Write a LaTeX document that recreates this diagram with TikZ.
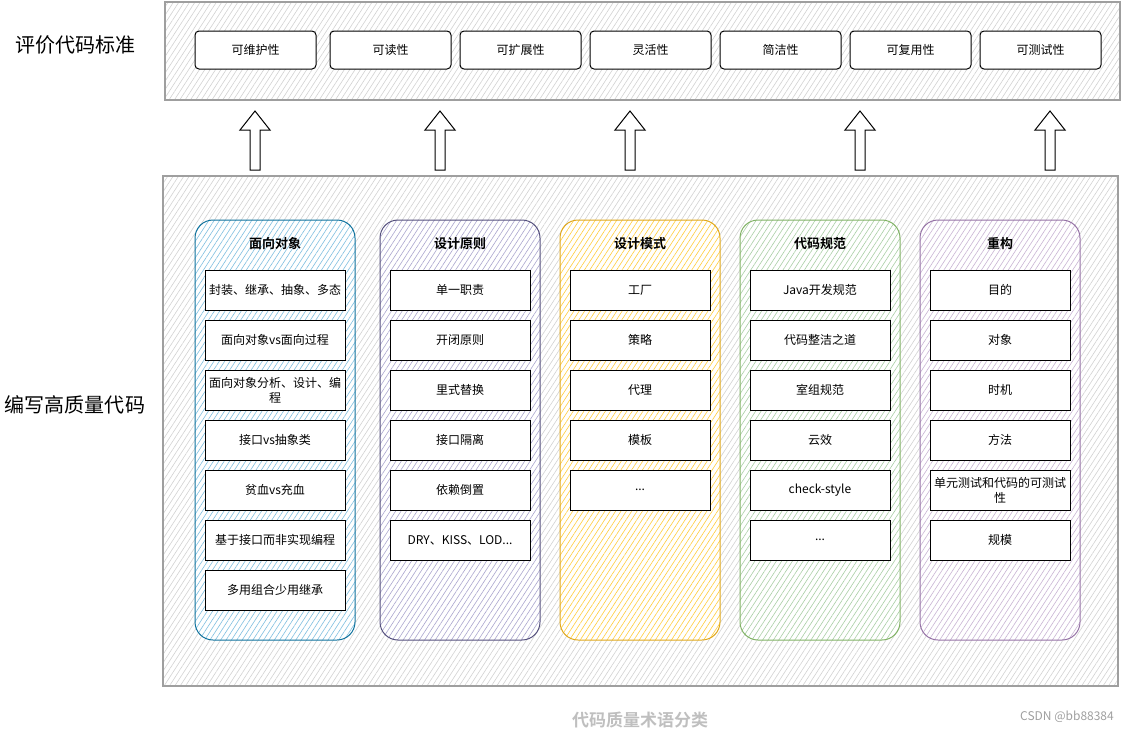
\documentclass[tikz,border=0pt]{standalone}
\usepackage{fontspec}
\setmainfont{Noto Sans CJK SC}[BoldFont={Noto Sans CJK SC Bold}]
\usetikzlibrary{patterns.meta}
\definecolor{oopline}{HTML}{10739E}\definecolor{oopfill}{HTML}{7FBFE0}
\definecolor{priline}{HTML}{56517E}\definecolor{prifill}{HTML}{ABA6CF}
\definecolor{patline}{HTML}{E0A81C}\definecolor{patfill}{HTML}{FFCD3C}
\definecolor{stdline}{HTML}{82B366}\definecolor{stdfill}{HTML}{A9CFA5}
\definecolor{refline}{HTML}{9673A6}\definecolor{reffill}{HTML}{C9B4D4}
\tikzset{
  hatch/.style={pattern={Lines[angle=57,distance=4.5pt,line width=0.6pt]},pattern color=#1},
  panel/.style={draw=gray!75,line width=1.1pt,preaction={fill=white},hatch=gray!35},
  quality/.style={draw,line width=1pt,rounded corners=4pt,fill=white,minimum width=121pt,minimum height=38pt,font=\fontsize{12}{14}\selectfont},
  column/.style 2 args={draw=#1,line width=1pt,rounded corners=18pt,preaction={fill=white},hatch=#2,minimum width=160pt,minimum height=420pt},
  coltitle/.style={font=\bfseries\fontsize{13}{15}\selectfont},
  item/.style={draw,line width=1pt,fill=white,minimum width=140pt,minimum height=40pt,align=center,font=\fontsize{12}{15}\selectfont},
  side/.style={font=\fontsize{20}{24}\selectfont},
  uparrow/.style={draw,line width=1pt,fill=white}
}
\begin{document}
\begin{tikzpicture}[x=1pt,y=-1pt]
\useasboundingbox (0,0) rectangle (1121,732);
% top bar
\node(top) at (642.5,51)[panel,minimum width=955pt,minimum height=98pt]{};
\node(std) at (75,45)[side]{评价代码标准};
\node(q1) at (255.5,50)[quality]{可维护性};
\node(q2) at (390.5,50)[quality]{可读性};
\node(q3) at (520.5,50)[quality]{可扩展性};
\node(q4) at (650.5,50)[quality]{灵活性};
\node(q5) at (780.5,50)[quality]{简洁性};
\node(q6) at (910.5,50)[quality]{可复用性};
\node(q7) at (1040.5,50)[quality]{可测试性};
% arrows
\foreach \x in {255,440,630,860,1050}
  \draw[uparrow] (\x-5,170) -- (\x-5,130) -- (\x-15,130) -- (\x,111) -- (\x+15,130) -- (\x+5,130) -- (\x+5,170) -- cycle;
% main box
\node(main) at (640.5,431)[panel,minimum width=955pt,minimum height=510pt]{};
\node(code) at (75,405)[side]{编写高质量代码};
% columns
\node(c1) at (275,430)[column={oopline}{oopfill}]{};
\node(c2) at (460,430)[column={priline}{prifill}]{};
\node(c3) at (640,430)[column={patline}{patfill}]{};
\node(c4) at (820,430)[column={stdline}{stdfill}]{};
\node(c5) at (1000,430)[column={refline}{reffill}]{};
\node(h1) at (275,244)[coltitle]{面向对象};
\node(h2) at (460,244)[coltitle]{设计原则};
\node(h3) at (640,244)[coltitle]{设计模式};
\node(h4) at (820,244)[coltitle]{代码规范};
\node(h5) at (1000,244)[coltitle]{重构};
% oop
\node(o1) at (275,290)[item]{封装、继承、抽象、多态};
\node(o2) at (275,340)[item]{面向对象vs面向过程};
\node(o3) at (275,390)[item]{面向对象分析、设计、编\\程};
\node(o4) at (275,440)[item]{接口vs抽象类};
\node(o5) at (275,490)[item]{贫血vs充血};
\node(o6) at (275,540)[item]{基于接口而非实现编程};
\node(o7) at (275,590)[item]{多用组合少用继承};
% principles
\node(p1) at (460,290)[item]{单一职责};
\node(p2) at (460,340)[item]{开闭原则};
\node(p3) at (460,390)[item]{里式替换};
\node(p4) at (460,440)[item]{接口隔离};
\node(p5) at (460,490)[item]{依赖倒置};
\node(p6) at (460,540)[item]{DRY、KISS、LOD...};
% patterns
\node(m1) at (640,290)[item]{工厂};
\node(m2) at (640,340)[item]{策略};
\node(m3) at (640,390)[item]{代理};
\node(m4) at (640,440)[item]{模板};
\node(m5) at (640,490)[item]{...};
% standards
\node(s1) at (820,290)[item]{Java开发规范};
\node(s2) at (820,340)[item]{代码整洁之道};
\node(s3) at (820,390)[item]{室组规范};
\node(s4) at (820,440)[item]{云效};
\node(s5) at (820,490)[item]{check-style};
\node(s6) at (820,540)[item]{...};
% refactoring
\node(r1) at (1000,290)[item]{目的};
\node(r2) at (1000,340)[item]{对象};
\node(r3) at (1000,390)[item]{时机};
\node(r4) at (1000,440)[item]{方法};
\node(r5) at (1000,490)[item]{单元测试和代码的可测试\\性};
\node(r6) at (1000,540)[item]{规模};
% caption
\node(cap) at (640,720)[text=gray!50,font=\bfseries\fontsize{17}{19}\selectfont]{代码质量术语分类};
\node(mark) at (1067,717)[text=gray!75,font=\fontsize{12}{14}\selectfont]{CSDN @bb88384};
\end{tikzpicture}
\end{document}
